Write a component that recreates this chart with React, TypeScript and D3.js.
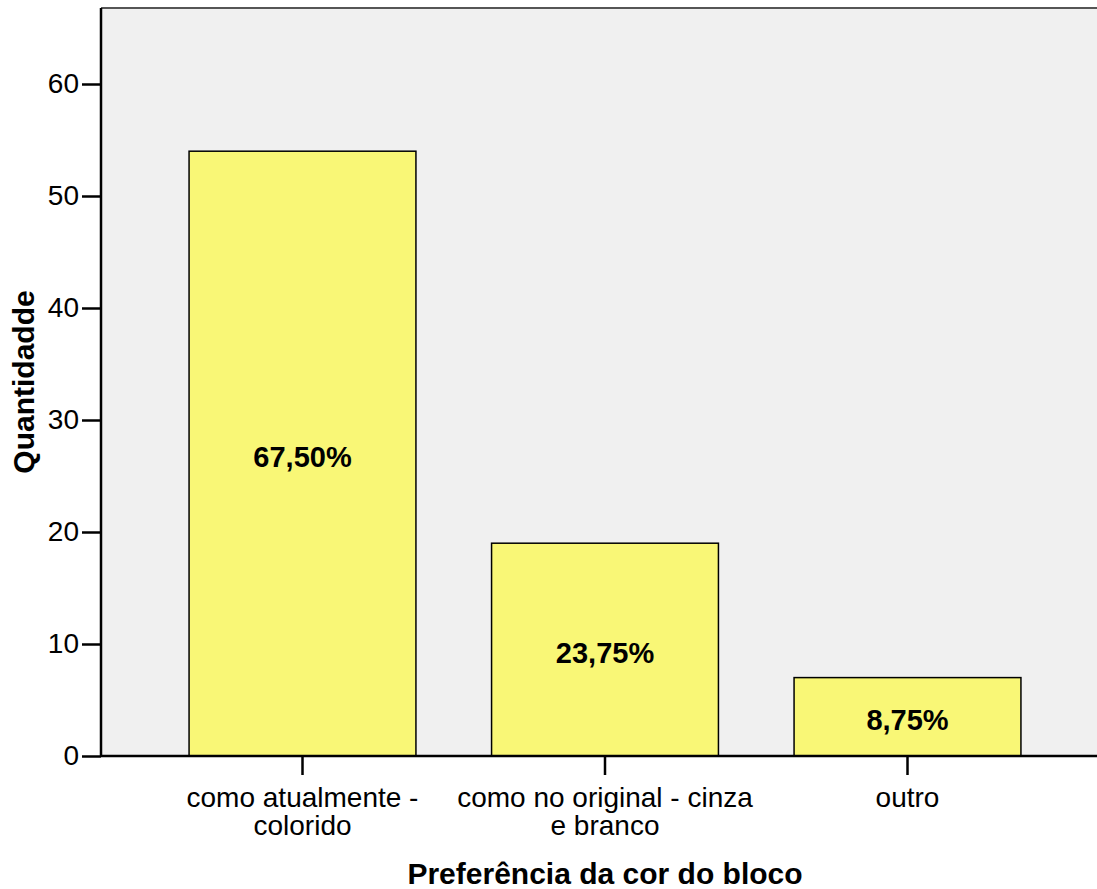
import * as d3 from "d3";
import { useEffect, useRef } from "react";

const categories = ["como atualmente - colorido", "como no original - cinza e branco", "outro"];
const catLines = [["como atualmente -", "colorido"], ["como no original - cinza", "e branco"], ["outro"]];
const counts = [54, 19, 7];
const percents = ["67,50%", "23,75%", "8,75%"];
const yTicks = [0, 10, 20, 30, 40, 50, 60];

export default function App() {
  const svgRef = useRef(null);

  useEffect(() => {
    const w = 1097;
    const h = 889;
    const left = 101;
    const top = 8;
    const bottom = 756;
    const font = "'Liberation Sans', Arial, sans-serif";
    const svg = d3.select(svgRef.current).attr("width", w).attr("height", h);
    svg.selectAll("*").remove();

    const x = d3.scaleBand().domain(categories).range([151.25, 1058.75]).paddingInner(0.25).paddingOuter(0.125);
    const y = d3.scaleLinear().domain([0, (bottom - top) / 11.2]).range([bottom, top]);

    svg.append("rect").attr("x", left).attr("y", top).attr("width", w - left).attr("height", bottom - top).attr("fill", "#f0f0f0");
    svg.append("line").attr("x1", left).attr("x2", w).attr("y1", top).attr("y2", top).attr("stroke", "#555").attr("stroke-width", 2);

    svg.selectAll("rect.bar")
      .data(counts)
      .enter()
      .append("rect")
      .attr("class", "bar")
      .attr("x", (_d, i) => x(categories[i]))
      .attr("y", (d) => y(d))
      .attr("width", x.bandwidth())
      .attr("height", (d) => bottom - y(d))
      .attr("fill", "#f9f776")
      .attr("stroke", "#000")
      .attr("stroke-width", 1.5);

    svg.selectAll("text.pct")
      .data(counts)
      .enter()
      .append("text")
      .attr("class", "pct")
      .attr("x", (_d, i) => x(categories[i]) + x.bandwidth() / 2)
      .attr("y", (d) => (y(d) + bottom) / 2 + 3)
      .attr("text-anchor", "middle")
      .attr("dominant-baseline", "central")
      .attr("font-family", font)
      .attr("font-weight", "bold")
      .attr("font-size", 29)
      .text((_d, i) => percents[i]);

    const yAxis = d3.axisLeft(y).tickValues(yTicks).tickSize(19).tickPadding(3);
    const ga = svg.append("g").attr("transform", `translate(${left},0)`).call(yAxis);
    ga.select(".domain").attr("stroke-width", 2.5).attr("d", `M0,${top}V${bottom}`);
    ga.selectAll(".tick line").attr("stroke-width", 2.5);
    ga.selectAll(".tick text").attr("font-size", 28).attr("font-family", font).attr("fill", "#000");

    const xAxis = d3.axisBottom(x).tickSize(19).tickFormat(() => "");
    const gx = svg.append("g").attr("transform", `translate(0,${bottom})`).call(xAxis);
    gx.select(".domain").attr("stroke-width", 2.5).attr("d", `M${left},0H${w}`);
    gx.selectAll(".tick line").attr("stroke-width", 2.5);

    categories.forEach((c, i) => {
      const cx = x(c) + x.bandwidth() / 2;
      const t = svg.append("text")
        .attr("x", cx)
        .attr("y", 807)
        .attr("text-anchor", "middle")
        .attr("font-family", font)
        .attr("font-size", 28);
      catLines[i].forEach((ln, j) => {
        t.append("tspan").attr("x", cx).attr("dy", j === 0 ? 0 : 28).text(ln);
      });
    });

    svg.append("text")
      .attr("x", 605)
      .attr("y", 884)
      .attr("text-anchor", "middle")
      .attr("font-family", font)
      .attr("font-weight", "bold")
      .attr("font-size", 30)
      .text("Preferência da cor do bloco");

    svg.append("text")
      .attr("transform", `translate(34,${(top + bottom) / 2}) rotate(-90)`)
      .attr("text-anchor", "middle")
      .attr("font-family", font)
      .attr("font-weight", "bold")
      .attr("font-size", 30)
      .text("Quantidadde");
  }, []);

  return <svg ref={svgRef} style={{ position: "absolute", left: 0, top: 0 }}></svg>;
}
